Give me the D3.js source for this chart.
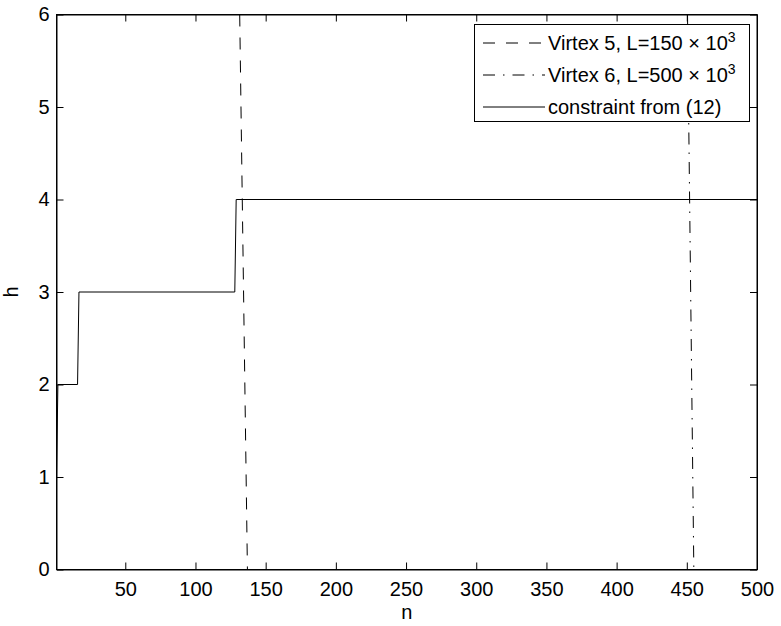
<!DOCTYPE html>
<html>
<head>
<meta charset="utf-8">
<script src="https://cdn.jsdelivr.net/npm/d3@7"></script>
<style>
  body { margin: 0; background: #fff; }
  text { font-family: "Liberation Sans", Arial, sans-serif; fill: #000; }
</style>
</head>
<body>
<div id="chart"></div>
<script>
// data
const stepN = [1, 2, 16, 17, 128, 129, 500];
const stepH = [1, 2, 2, 3, 3, 4, 4];
const virtex5N = [131.5, 137];
const virtex5H = [6, 0];
const virtex6N = [450.5, 455];
const virtex6H = [6, 0];
const xTicks = [50, 100, 150, 200, 250, 300, 350, 400, 450, 500];
const yTicks = [0, 1, 2, 3, 4, 5, 6];
const legendLabels = ["Virtex 5, L=150 \u00d7 10", "Virtex 6, L=500 \u00d7 10", "constraint from (12)"];
const legendSup = ["3", "3", ""];

const W = 781, H = 626;
const L = 56.5, R = 757, T = 14.5, B = 569.5;
const FS = 20;

const svg = d3.select("#chart").append("svg")
  .attr("width", W).attr("height", H);

const x = d3.scaleLinear().domain([1, 500]).range([L, R]);
const y = d3.scaleLinear().domain([0, 6]).range([B, T]);

svg.append("defs").append("clipPath").attr("id", "clip")
  .append("rect").attr("x", L).attr("y", T).attr("width", R - L).attr("height", B - T);

const plot = svg.append("g").attr("clip-path", "url(#clip)");
const line = d3.line().x(d => x(d[0])).y(d => y(d[1]));

const series = [
  { n: virtex5N, h: virtex5H, dash: "12,11" },
  { n: virtex6N, h: virtex6H, dash: "12,8,1.5,8" },
  { n: stepN, h: stepH, dash: null }
];

series.forEach(s => {
  plot.append("path")
    .datum(s.n.map((v, i) => [v, s.h[i]]))
    .attr("d", line)
    .attr("fill", "none")
    .attr("stroke", "#000")
    .attr("stroke-width", 1)
    .attr("stroke-dasharray", s.dash);
});

// axes, ticks pointing in, box all round
const tick = 7;
const fmt = d3.format("d");
const ax = svg.append("g");
ax.append("g").attr("transform", `translate(0,${B})`)
  .call(d3.axisBottom(x).tickValues(xTicks).tickFormat(fmt).tickSizeInner(-tick).tickSizeOuter(0).tickPadding(12));
ax.append("g").attr("transform", `translate(0,${T})`)
  .call(d3.axisTop(x).tickValues(xTicks).tickSizeInner(-tick).tickSizeOuter(0).tickFormat(""));
ax.append("g").attr("transform", `translate(${L},0)`)
  .call(d3.axisLeft(y).tickValues(yTicks).tickFormat(fmt).tickSizeInner(-tick).tickSizeOuter(0).tickPadding(7));
ax.append("g").attr("transform", `translate(${R},0)`)
  .call(d3.axisRight(y).tickValues(yTicks).tickSizeInner(-tick).tickSizeOuter(0).tickFormat(""));
ax.selectAll(".domain").attr("stroke", "#000");
ax.selectAll(".tick line").attr("stroke", "#000");
ax.selectAll(".tick text").attr("font-size", FS).attr("font-family", null);

svg.append("rect").attr("x", L).attr("y", T).attr("width", R - L).attr("height", B - T)
  .attr("fill", "none").attr("stroke", "#000").attr("stroke-width", 1);

svg.append("text").attr("x", (L + R) / 2).attr("y", 619)
  .attr("text-anchor", "middle").attr("font-size", FS).text("n");
svg.append("text").attr("transform", `translate(18,${(T + B) / 2}) rotate(-90)`)
  .attr("text-anchor", "middle").attr("font-size", FS).text("h");

// legend
const lg = svg.append("g");
lg.append("rect").attr("x", 474.5).attr("y", 24.5).attr("width", 275).attr("height", 97)
  .attr("fill", "#fff").attr("stroke", "#000");
series.forEach((s, i) => {
  const ry = 43 + i * 32;
  lg.append("line").attr("x1", 483).attr("x2", 545).attr("y1", ry).attr("y2", ry)
    .attr("stroke", "#000").attr("stroke-dasharray", s.dash);
  const t = lg.append("text").attr("x", 548).attr("y", ry + 7).attr("font-size", FS)
    .text(legendLabels[i]);
  if (legendSup[i]) {
    t.append("tspan").attr("dy", -8).attr("font-size", 14).text(legendSup[i]);
  }
});
</script>
</body>
</html>
